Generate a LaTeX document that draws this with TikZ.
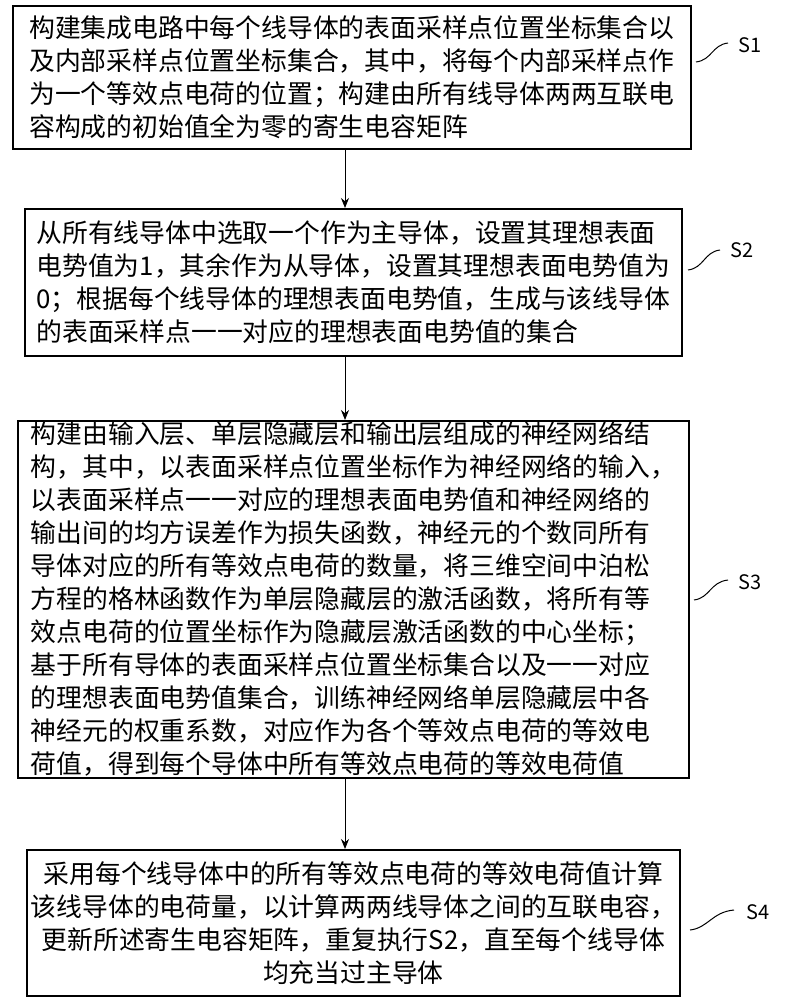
\documentclass[tikz,border=0pt]{standalone}
\usepackage{fontspec}
\newfontfamily\cjk{Noto Sans CJK SC}
\usetikzlibrary{arrows.meta}
\begin{document}
\begin{tikzpicture}[x=1pt,y=-1pt,
  stepbox/.style={draw,line width=1.6pt,inner sep=0pt,font=\cjk\fontsize{25.8}{33}\selectfont},
  lbl/.style={font=\cjk\fontsize{20}{24}\selectfont},
  arr/.style={-{Stealth[length=10pt,width=8pt]},line width=1pt},
  tick/.style={line width=1pt}]
\useasboundingbox (0,0) rectangle (786,1000);
\node[stepbox,minimum width=678,minimum height=143,anchor=north west,align=left] (b1) at (12,5)
{构建集成电路中每个线导体的表面采样点位置坐标集合以\\及内部采样点位置坐标集合，其中，将每个内部采样点作\\为一个等效点电荷的位置；构建由所有线导体两两互联电\\容构成的初始值全为零的寄生电容矩阵};
\node[stepbox,minimum width=657,minimum height=147,anchor=north west,align=left] (b2) at (24,208)
{从所有线导体中选取一个作为主导体，设置其理想表面\\电势值为1，其余作为从导体，设置其理想表面电势值为\\0；根据每个线导体的理想表面电势值，生成与该线导体\\的表面采样点一一对应的理想表面电势值的集合};
\node[stepbox,minimum width=671,minimum height=357,anchor=north west,align=left] (b3) at (17,420)
{构建由输入层、单层隐藏层和输出层组成的神经网络结\\构，其中，以表面采样点位置坐标作为神经网络的输入，\\以表面采样点一一对应的理想表面电势值和神经网络的\\输出间的均方误差作为损失函数，神经元的个数同所有\\导体对应的所有等效点电荷的数量，将三维空间中泊松\\方程的格林函数作为单层隐藏层的激活函数，将所有等\\效点电荷的位置坐标作为隐藏层激活函数的中心坐标；\\基于所有导体的表面采样点位置坐标集合以及一一对应\\的理想表面电势值集合，训练神经网络单层隐藏层中各\\神经元的权重系数，对应作为各个等效点电荷的等效电\\荷值，得到每个导体中所有等效点电荷的等效电荷值};
\node[stepbox,minimum width=653,minimum height=146,anchor=north west,align=center] (b4) at (26,849)
{采用每个线导体中的所有等效点电荷的等效电荷值计算\\该线导体的电荷量，以计算两两线导体之间的互联电容，\\更新所述寄生电容矩阵，重复执行S2，直至每个线导体\\均充当过主导体};
\draw[arr] (b1.south -| 345,0) -- (b2.north -| 345,0);
\draw[arr] (b2.south -| 345,0) -- (b3.north -| 345,0);
\draw[arr] (b3.south -| 345,0) -- (b4.north -| 345,0);
\node[lbl] (s1) at (750,45) {S1};
\node[lbl] (s2) at (742,250) {S2};
\node[lbl] (s3) at (750,582) {S3};
\node[lbl] (s4) at (758,912) {S4};
\coordinate (t1) at (696,62); \coordinate (t2) at (688,270);
\coordinate (t3) at (694,600); \coordinate (t4) at (690,930);
\draw[tick] (t1) .. controls (712,60) and (712,45) .. (728,43);
\draw[tick] (t2) .. controls (704,268) and (704,252) .. (720,250);
\draw[tick] (t3) .. controls (710,598) and (710,582) .. (728,580);
\draw[tick] (t4) .. controls (708,928) and (712,912) .. (734,910);
\end{tikzpicture}
\end{document}
